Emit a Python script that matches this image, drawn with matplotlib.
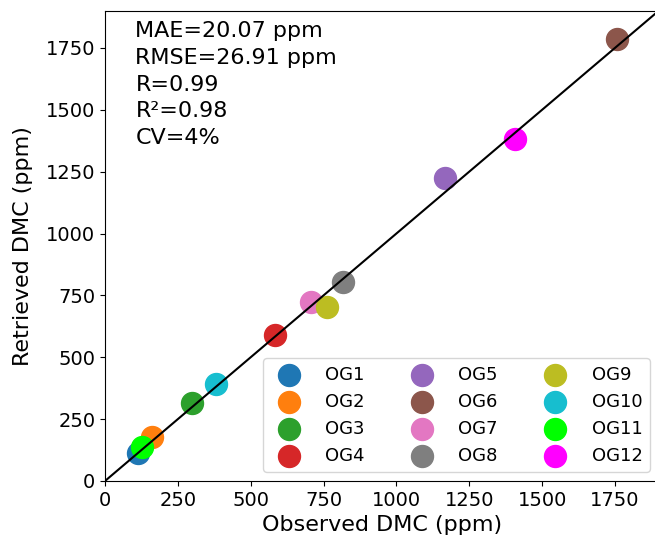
import matplotlib
matplotlib.use("Agg")
import matplotlib.pyplot as plt

# observed vs retrieved DMC for each group (ppm)
labels = ["OG1", "OG2", "OG3", "OG4", "OG5", "OG6",
          "OG7", "OG8", "OG9", "OG10", "OG11", "OG12"]
observed = [112, 160, 298, 583, 1167, 1756, 707, 816, 761, 381, 128, 1407]
retrieved = [112, 179, 314, 590, 1225, 1785, 724, 805, 704, 392, 139, 1381]
colors = ["tab:blue", "tab:orange", "tab:green", "tab:red", "tab:purple",
          "tab:brown", "tab:pink", "tab:gray", "tab:olive", "tab:cyan",
          "#00ff00", "#ff00ff"]

stats_text = "MAE=20.07 ppm\nRMSE=26.91 ppm\nR=0.99\nR\u00b2=0.98\nCV=4%"
lim = [0, 1900]

fig = plt.figure(figsize=(6.55, 5.43), dpi=100)
ax = fig.add_axes([0.1603, 0.1142, 0.8453, 0.8659])

for i in range(len(labels)):
    ax.scatter(observed[i], retrieved[i], s=250, color=colors[i],
               label=labels[i], zorder=2)

ax.plot(lim, lim, color="black", linewidth=1.5, zorder=3)
ax.set_xlim(lim)
ax.set_ylim(lim)

ax.set_xlabel("Observed DMC (ppm)", fontsize=16)
ax.set_ylabel("Retrieved DMC (ppm)", fontsize=16, labelpad=9)
ax.tick_params(labelsize=14)

ax.text(0.055, 0.978, stats_text, transform=ax.transAxes, fontsize=16,
        va="top", ha="left", linespacing=1.42)

ax.legend(loc="lower right", ncol=3, fontsize=13, columnspacing=2.2,
          handletextpad=1.0)

fig.savefig("out.png", dpi=100)
